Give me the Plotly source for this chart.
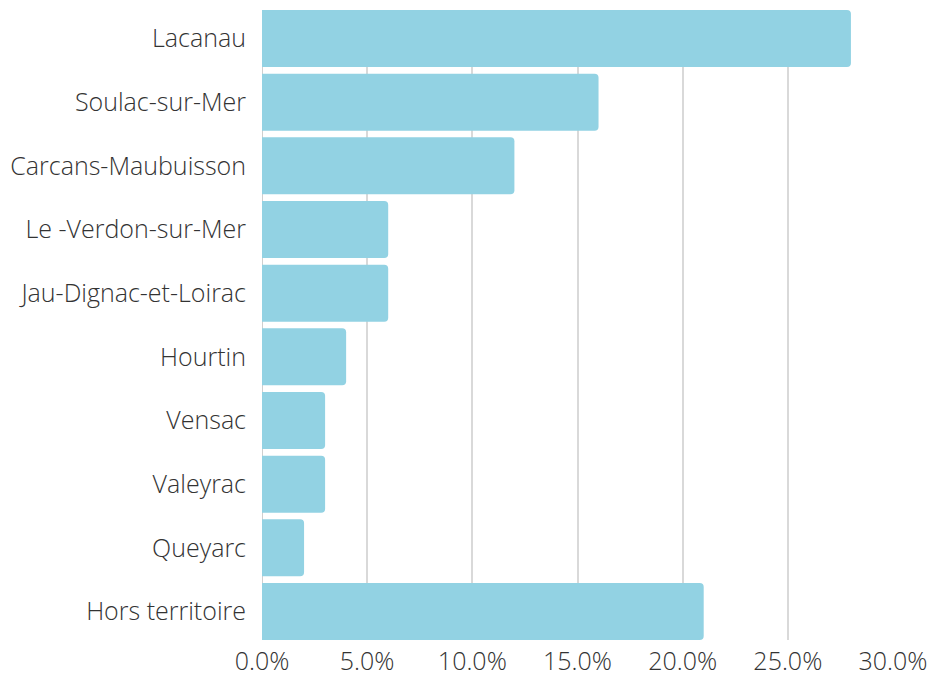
import plotly.graph_objects as go

categories = ["Lacanau", "Soulac-sur-Mer", "Carcans-Maubuisson", "Le -Verdon-sur-Mer",
              "Jau-Dignac-et-Loirac", "Hourtin", "Vensac", "Valeyrac", "Queyarc", "Hors territoire"]
shares = [0.28, 0.16, 0.12, 0.06, 0.06, 0.04, 0.03, 0.03, 0.02, 0.21]
x_ticks = [0, 0.05, 0.10, 0.15, 0.20, 0.25, 0.30]

fig = go.Figure(go.Bar(
    x=shares, y=categories, orientation="h",
    marker=dict(color="#92D2E3", cornerradius=4, line=dict(width=0)),
    width=0.895,
))

fig.update_layout(
    width=927, height=669,
    margin=dict(l=254, r=42, t=2, b=37, autoexpand=False),
    paper_bgcolor="white", plot_bgcolor="white",
    font=dict(family="Open Sans", size=25, color="#333333", weight=300),
    showlegend=False,
)
fig.update_xaxes(
    range=[0, 0.30], tickvals=x_ticks, tickformat=".1%",
    showgrid=True, gridcolor="#D9D9D9", gridwidth=1.5,
    zeroline=False, showline=False, ticks="", automargin=False,
    ticklabelstandoff=4,
    tickfont=dict(size=25, weight=300),
)
fig.update_yaxes(
    range=[len(categories) - 1 + 0.4475, -0.4475],
    showgrid=False, zeroline=False, automargin=False,
    showline=False, ticks="", ticklabelstandoff=15,
    tickfont=dict(size=25, weight=300),
)
fig.add_shape(type="line", xref="x", yref="paper", x0=0, x1=0, y0=0, y1=1,
              line=dict(color="#BFBFBF", width=1.5), layer="below")

fig.write_html("out.html")
